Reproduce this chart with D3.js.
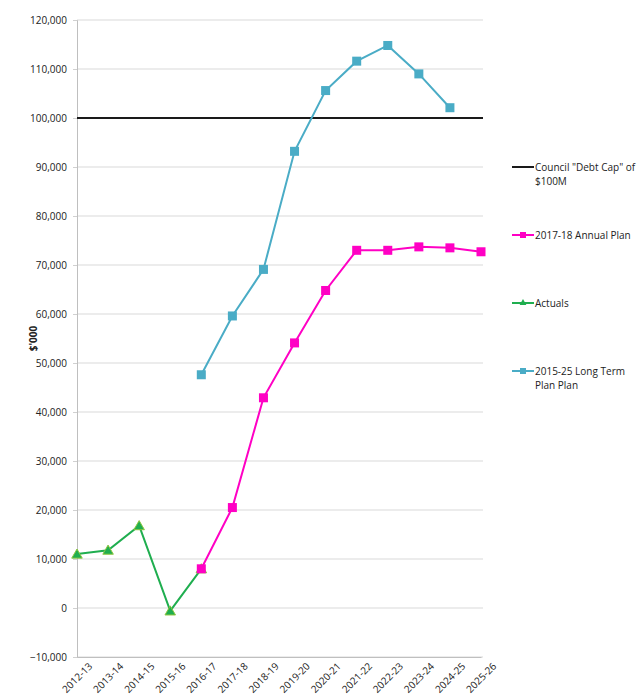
<!DOCTYPE html>
<html>
<head>
<meta charset="utf-8">
<script src="https://cdn.jsdelivr.net/npm/d3@7/dist/d3.min.js"></script>
<style>
  body { margin: 0; background: #fff; }
  text { font-family: "Open Sans", "Liberation Sans", sans-serif; fill: #222; }
</style>
</head>
<body>
<svg id="chart" width="638" height="698"></svg>
<script>
// Financial years along the x axis
const years = ["2012-13","2013-14","2014-15","2015-16","2016-17","2017-18","2018-19",
  "2019-20","2020-21","2021-22","2022-23","2023-24","2024-25","2025-26"];

// Net debt, $'000 (null where a series has no value)
const actuals = [11000, 11800, 16800, -600, 8000, null, null, null, null, null, null, null, null, null];
const annualPlan = [null, null, null, null, 8000, 20500, 42900, 54100, 64800, 73000, 73000, 73700, 73500, 72700];
const longTermPlan = [null, null, null, null, 47600, 59600, 69100, 93200, 105600, 111600, 114800, 109000, 102100, null];
const debtCap = 100000;

const yTicks = [-10000, 0, 10000, 20000, 30000, 40000, 50000, 60000, 70000, 80000, 90000, 100000, 110000, 120000];

const series = [
  { name: ["Council \"Debt Cap\" of", "$100M"], color: "#1a1a1a", marker: null },
  { name: ["2017-18 Annual Plan"], values: annualPlan, color: "#ff00c4", marker: "square" },
  { name: ["Actuals"], values: actuals, color: "#1fae4f", marker: "triangle" },
  { name: ["2015-25 Long Term", "Plan Plan"], values: longTermPlan, color: "#4aacc6", marker: "square" }
];

const svg = d3.select("#chart");
const plotLeft = 77, plotRight = 481, plotTop = 20, plotBottom = 657;

const x = d3.scalePoint().domain(years).range([plotLeft, plotRight]);
const y = d3.scaleLinear().domain([-10000, 120000]).range([plotBottom, plotTop]);

// gridlines
svg.append("g").selectAll("line").data(yTicks).join("line")
  .attr("x1", plotLeft).attr("x2", plotRight + 2)
  .attr("y1", d => y(d)).attr("y2", d => y(d))
  .attr("stroke", "#d9d9d9").attr("stroke-width", 1);

// y axis
const yAxis = svg.append("g").attr("transform", `translate(${plotLeft},0)`)
  .call(d3.axisLeft(y).tickValues(yTicks).tickFormat(d3.format(",")).tickSize(4).tickPadding(6));
yAxis.select(".domain").attr("stroke", "#bfbfbf");
yAxis.selectAll(".tick line").attr("stroke", "#d0d0d0");
yAxis.selectAll("text").style("font-size", "10px").style("font-family", "\"Open Sans\", sans-serif").attr("fill", "#222");

// x axis along the bottom
const xAxis = svg.append("g").attr("transform", `translate(0,${plotBottom})`)
  .call(d3.axisBottom(x).tickSize(0).tickPadding(9));
xAxis.select(".domain").attr("stroke", "#bfbfbf");
xAxis.selectAll("text")
  .style("font-size", "10px").style("font-family", "\"Open Sans\", sans-serif").attr("fill", "#222")
  .attr("text-anchor", "end")
  .attr("dx", "0.4em").attr("dy", "0.9em")
  .attr("transform", "rotate(-45)");

// y axis title
svg.append("text")
  .attr("transform", `translate(37,${(plotTop + plotBottom) / 2}) rotate(-90)`)
  .attr("text-anchor", "middle")
  .style("font-size", "10px").style("font-weight", "bold")
  .text("$'000");

// debt cap line
svg.append("line")
  .attr("x1", plotLeft).attr("x2", plotRight + 2)
  .attr("y1", y(debtCap)).attr("y2", y(debtCap))
  .attr("stroke", series[0].color).attr("stroke-width", 2);

const line = d3.line()
  .defined(d => d.v !== null)
  .x(d => x(d.year)).y(d => y(d.v));

const tri = d3.symbol().type(d3.symbolTriangle).size(48);

function drawMarkers(g, s, pts) {
  if (s.marker === "square") {
    g.selectAll("rect").data(pts).join("rect")
      .attr("x", d => x(d.year) - 4.5).attr("y", d => y(d.v) - 4.5)
      .attr("width", 9).attr("height", 9)
      .attr("fill", s.color);
  } else if (s.marker === "triangle") {
    g.selectAll("path.m").data(pts).join("path").attr("class", "m")
      .attr("d", tri)
      .attr("transform", d => `translate(${x(d.year)},${y(d.v) + 1})`)
      .attr("fill", s.color).attr("stroke", "#8dc63f").attr("stroke-width", 1);
  }
}

// draw series: actuals first, then long term plan, then annual plan on top
[series[2], series[3], series[1]].forEach(s => {
  const data = years.map((yr, i) => ({ year: yr, v: s.values[i] }));
  const g = svg.append("g");
  g.append("path").datum(data)
    .attr("d", line).attr("fill", "none")
    .attr("stroke", s.color).attr("stroke-width", 2);
  drawMarkers(g, s, data.filter(d => d.v !== null));
});

// legend
const legendY = [167, 235, 303, 371];
series.forEach((s, i) => {
  const g = svg.append("g").attr("transform", `translate(512,${legendY[i]})`);
  g.append("line").attr("x1", 0).attr("x2", 22).attr("y1", 0).attr("y2", 0)
    .attr("stroke", s.color).attr("stroke-width", 2);
  if (s.marker === "square") {
    g.append("rect").attr("x", 8).attr("y", -3).attr("width", 6).attr("height", 6).attr("fill", s.color);
  } else if (s.marker === "triangle") {
    g.append("path").attr("d", d3.symbol().type(d3.symbolTriangle).size(20))
      .attr("transform", "translate(11,0)").attr("fill", s.color);
  }
  s.name.forEach((t, j) => {
    g.append("text").attr("x", 23).attr("y", j * 14).attr("dy", "0.35em")
      .style("font-size", "10px").text(t);
  });
});
</script>
</body>
</html>
